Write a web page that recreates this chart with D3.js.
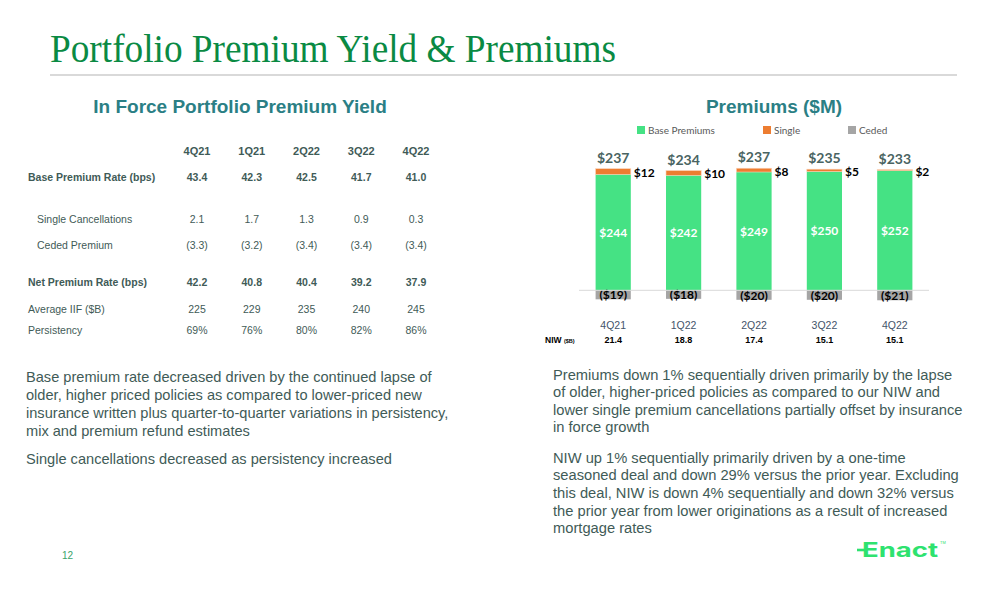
<!DOCTYPE html>
<html>
<head>
<meta charset="utf-8">
<script src="https://cdn.jsdelivr.net/npm/d3@7"></script>
<style>
  body { margin: 0; background: #fff; }
  svg { display: block; font-family: Arial, "Liberation Sans", sans-serif; }
</style>
</head>
<body>
<svg id="slide" width="1008" height="612"></svg>
<script>
// chart data
var quarters = ["4Q21", "1Q22", "2Q22", "3Q22", "4Q22"];
var basePremiums = [244, 242, 249, 250, 252];
var singlePremiums = [12, 10, 8, 5, 2];
var cededPremiums = [-19, -18, -20, -20, -21];
var totalPremiums = [237, 234, 237, 235, 233];
var niwValues = ["21.4", "18.8", "17.4", "15.1", "15.1"];
var legendNames = ["Base Premiums", "Single", "Ceded"];

// table data
var tableCols = ["4Q21", "1Q21", "2Q22", "3Q22", "4Q22"];
var baseRate = ["43.4", "42.3", "42.5", "41.7", "41.0"];
var singleCanc = ["2.1", "1.7", "1.3", "0.9", "0.3"];
var cededPrem = ["(3.3)", "(3.2)", "(3.4)", "(3.4)", "(3.4)"];
var netRate = ["42.2", "40.8", "40.4", "39.2", "37.9"];
var avgIIF = ["225", "229", "235", "240", "245"];
var persistency = ["69%", "76%", "80%", "82%", "86%"];

var leftText = [
  ["Base premium rate decreased driven by the continued lapse of",
   "older, higher priced policies as compared to lower-priced new",
   "insurance written plus quarter-to-quarter variations in persistency,",
   "mix and premium refund estimates"],
  ["Single cancellations decreased as persistency increased"]
];
var rightText = [
  ["Premiums down 1% sequentially driven primarily by the lapse",
   "of older, higher-priced policies as compared to our NIW and",
   "lower single premium cancellations partially offset by insurance",
   "in force growth"],
  ["NIW up 1% sequentially primarily driven by a one-time",
   "seasoned deal and down 29% versus the prior year. Excluding",
   "this deal, NIW is down 4% sequentially and down 32% versus",
   "the prior year from lower originations as a result of increased",
   "mortgage rates"]
];

var svg = d3.select("#slide");
var textColor = "#3f5b57";
var teal = "#2b7f85";

// slide title
svg.append("text")
  .attr("x", 50).attr("y", 62)
  .attr("textLength", 566).attr("lengthAdjust", "spacingAndGlyphs")
  .style("font-family", "'Liberation Serif', serif")
  .style("font-size", "39px")
  .style("fill", "#0a8a43")
  .text("Portfolio Premium Yield & Premiums");

svg.append("line")
  .attr("x1", 50).attr("x2", 957).attr("y1", 75).attr("y2", 75)
  .style("stroke", "#d9d9d9").style("stroke-width", 2);

// section titles
svg.append("text")
  .attr("x", 240).attr("y", 113).attr("text-anchor", "middle")
  .style("font-size", "19px").style("font-weight", "bold").style("fill", teal)
  .text("In Force Portfolio Premium Yield");

svg.append("text")
  .attr("x", 774).attr("y", 113).attr("text-anchor", "middle")
  .style("font-size", "19px").style("font-weight", "bold").style("fill", teal)
  .text("Premiums ($M)");

// ---- table ----
var tx = d3.scalePoint().domain(tableCols).range([197, 416]);
var tableRows = [
  { label: null, vals: tableCols, y: 155, bold: true, indent: 0 },
  { label: "Base Premium Rate (bps)", vals: baseRate, y: 181, bold: true, indent: 0 },
  { label: "Single Cancellations", vals: singleCanc, y: 223, bold: false, indent: 9 },
  { label: "Ceded Premium", vals: cededPrem, y: 249, bold: false, indent: 9 },
  { label: "Net Premium Rate (bps)", vals: netRate, y: 286, bold: true, indent: 0 },
  { label: "Average IIF ($B)", vals: avgIIF, y: 313, bold: false, indent: 0 },
  { label: "Persistency", vals: persistency, y: 334, bold: false, indent: 0 }
];

var rowG = svg.selectAll(".trow").data(tableRows).enter().append("g")
  .attr("class", "trow")
  .style("font-size", "10.5px")
  .style("fill", textColor)
  .style("font-weight", function(d) { return d.bold ? "bold" : "normal"; });

rowG.filter(function(d) { return d.label; }).append("text")
  .attr("x", function(d) { return 28 + d.indent; })
  .attr("y", function(d) { return d.y; })
  .text(function(d) { return d.label; });

rowG.each(function(row) {
  d3.select(this).selectAll(".cell").data(row.vals).enter().append("text")
    .attr("class", "cell")
    .attr("x", function(d, i) { return tx(tableCols[i]); })
    .attr("y", row.y)
    .attr("text-anchor", "middle")
    .style("font-size", row.label ? null : "11px")
    .text(function(d) { return d; });
});

// ---- stacked bar chart ----
var x = d3.scaleBand().domain(quarters).range([578, 930]).paddingInner(0.5).paddingOuter(0.25);
var y = d3.scaleLinear().domain([-30, 260]).range([304.55, 166.8]);

var colors = { base: "#45e284", single: "#ed7d31", ceded: "#a5a5a5" };

var stacks = quarters.map(function(q, i) {
  return { q: q, base: basePremiums[i], single: singlePremiums[i], ceded: cededPremiums[i], total: totalPremiums[i], niw: niwValues[i] };
});

// legend
var legendX = [637, 763, 848];
var legendColors = [colors.base, colors.single, colors.ceded];
var legend = svg.selectAll(".legend").data(legendNames).enter().append("g")
  .attr("class", "legend")
  .attr("transform", function(d, i) { return "translate(" + legendX[i] + ",130)"; });
legend.append("rect").attr("x", 0).attr("y", -4).attr("width", 8).attr("height", 8)
  .style("fill", function(d, i) { return legendColors[i]; });
legend.append("text").attr("x", 11).attr("y", 3.5)
  .style("font-family", "Lato, 'Open Sans', sans-serif")
  .style("font-size", "10px").style("fill", "#595959")
  .text(function(d) { return d; });

var bars = svg.selectAll(".bar").data(stacks).enter().append("g").attr("class", "bar");

bars.append("rect")
  .attr("x", function(d) { return x(d.q); })
  .attr("width", x.bandwidth())
  .attr("y", function(d) { return y(d.base); })
  .attr("height", function(d) { return y(0) - y(d.base); })
  .style("fill", colors.base);

bars.append("rect")
  .attr("x", function(d) { return x(d.q); })
  .attr("width", x.bandwidth())
  .attr("y", function(d) { return y(d.base + d.single); })
  .attr("height", function(d) { return y(d.base) - y(d.base + d.single); })
  .style("fill", colors.single)
  .style("stroke", "#fbd3b8").style("stroke-width", 0.6);

bars.append("rect")
  .attr("x", function(d) { return x(d.q); })
  .attr("width", x.bandwidth())
  .attr("y", y(0))
  .attr("height", function(d) { return y(d.ceded) - y(0); })
  .style("fill", colors.ceded);

// baseline axis
svg.append("g")
  .attr("transform", "translate(0," + y(0) + ")")
  .call(d3.axisBottom(x).tickSize(0).tickFormat(""))
  .call(function(g) { g.select(".domain").attr("d", "M579,0H929").style("stroke", "#d9d9d9"); });

var lbl = "Lato, 'Open Sans', sans-serif";

bars.append("text")
  .attr("x", function(d) { return x(d.q) + x.bandwidth() / 2; })
  .attr("y", function(d) { return (y(d.base) + y(0)) / 2 + 4.5; })
  .attr("text-anchor", "middle")
  .style("font-family", lbl).style("font-size", "12px").style("font-weight", "bold").style("fill", "#fff")
  .text(function(d) { return "$" + d.base; });

bars.append("text")
  .attr("x", function(d) { return x(d.q) + x.bandwidth() + 3; })
  .attr("y", function(d) { return (y(d.base) + y(d.base + d.single)) / 2 + 5.5; })
  .style("font-family", lbl).style("font-size", "12px").style("font-weight", "bold").style("fill", "#000")
  .text(function(d) { return "$" + d.single; });

bars.append("text")
  .attr("x", function(d) { return x(d.q) + x.bandwidth() / 2; })
  .attr("y", function(d) { return (y(d.ceded) + y(0)) / 2 + 4.5; })
  .attr("text-anchor", "middle")
  .style("font-family", lbl).style("font-size", "12px").style("font-weight", "bold").style("fill", "#000")
  .text(function(d) { return "($" + (-d.ceded) + ")"; });

bars.append("text")
  .attr("x", function(d) { return x(d.q) + x.bandwidth() / 2; })
  .attr("y", function(d) { return y(d.base + d.single) - 6; })
  .attr("text-anchor", "middle")
  .style("font-family", lbl).style("font-size", "14px").style("font-weight", "bold").style("fill", "#4a6462")
  .text(function(d) { return "$" + d.total; });

// category axis
var catAxis = svg.append("g")
  .attr("transform", "translate(0,318)")
  .call(d3.axisBottom(x).tickSize(0).tickPadding(4));
catAxis.select(".domain").remove();
catAxis.selectAll("text").style("font-family", "Arial, sans-serif").style("font-size", "10.5px").style("fill", "#44546a");

// NIW row
var niwLbl = svg.append("text").attr("x", 545).attr("y", 343)
  .style("font-size", "8.5px").style("font-weight", "bold").style("fill", "#000");
niwLbl.append("tspan").text("NIW ");
niwLbl.append("tspan").style("font-size", "5.5px").text("($B)");

bars.append("text")
  .attr("x", function(d) { return x(d.q) + x.bandwidth() / 2; })
  .attr("y", 343)
  .attr("text-anchor", "middle")
  .style("font-size", "9px").style("font-weight", "bold").style("fill", "#000")
  .text(function(d) { return d.niw; });

// ---- text paragraphs ----
function paragraphs(paras, x0, y0, lineH, gap, size) {
  var yy = y0;
  paras.forEach(function(lines) {
    lines.forEach(function(line) {
      svg.append("text").attr("x", x0).attr("y", yy)
        .style("font-size", size).style("fill", textColor).text(line);
      yy += lineH;
    });
    yy += gap;
  });
}
paragraphs(leftText, 26, 382, 18.1, 10, "14.6px");
paragraphs(rightText, 553, 379.5, 17.6, 12.8, "14.7px");

// footer
svg.append("text").attr("x", 62).attr("y", 559)
  .style("font-size", "10px").style("fill", "#3aa36a").text("12");

var logo = svg.append("g").attr("transform", "translate(858,557)");
logo.append("text").attr("x", 4).attr("y", 0)
  .attr("textLength", 76).attr("lengthAdjust", "spacingAndGlyphs")
  .style("font-family", "Inter, 'Open Sans', sans-serif")
  .style("font-size", "20px").style("font-weight", "bold").style("fill", "#2ee26f")
  .text("Enact");
logo.append("line").attr("x1", -1).attr("x2", 9).attr("y1", -7).attr("y2", -7)
  .style("stroke", "#2ee26f").style("stroke-width", 2.6);
logo.append("text").attr("x", 82).attr("y", -13)
  .style("font-size", "4px").style("fill", "#2ee26f").text("TM");
</script>
</body>
</html>
